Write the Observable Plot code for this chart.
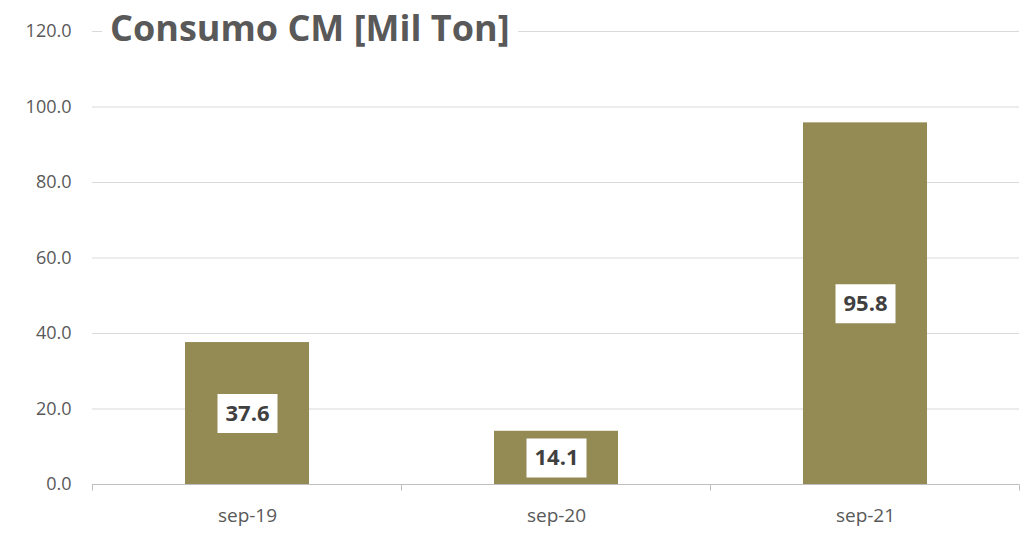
<!DOCTYPE html>
<html>
<head>
<meta charset="utf-8">
<script src="https://cdn.jsdelivr.net/npm/d3@7"></script>
<script src="https://cdn.jsdelivr.net/npm/@observablehq/plot@0.6"></script>
<style>
  html, body { margin: 0; padding: 0; background: #fff; }
  #wrap { position: relative; width: 1024px; height: 533px; }
  #title {
    position: absolute; left: 102px; top: 1px; padding: 0 8px;
    background: #fff; color: #595959;
    font-family: "Open Sans", sans-serif; font-weight: bold; font-size: 36px;
    line-height: 54px; white-space: nowrap;
  }
</style>
</head>
<body>
<div id="wrap">
  <div id="chart"></div>
  <div id="title">Consumo CM [Mil Ton]</div>
</div>
<script>
const categories = ["sep-19", "sep-20", "sep-21"];
const values = [37.6, 14.1, 95.8];
const yTicks = [0, 20, 40, 60, 80, 100, 120];

const data = categories.map((c, i) => ({cat: c, v: values[i]}));
const padInner = 0.6;

const boxSymbol = {
  draw(ctx) { ctx.rect(-30, -19.5, 60, 39); }
};

function edgeTicks(index, scales) {
  const x = scales.x, y = scales.y;
  const step = x(categories[1]) - x(categories[0]);
  const bw = step * (1 - padInner);
  const g = d3.create("svg:g").attr("stroke", "#bfbfbf").attr("stroke-width", 1).attr("fill", "none");
  const y0 = Math.round(y(0)) + 0.5;
  const edges = [x(categories[0]) - (step - bw) / 2];
  categories.forEach(c => edges.push(x(c) + bw + (step - bw) / 2));
  g.append("line").attr("x1", edges[0]).attr("x2", edges[edges.length - 1]).attr("y1", y0).attr("y2", y0);
  edges.forEach(e => {
    const ex = Math.round(e) + 0.5;
    g.append("line").attr("x1", ex).attr("x2", ex).attr("y1", y0).attr("y2", y0 + 6);
  });
  return g.node();
}

const chart = Plot.plot({
  width: 1024,
  height: 533,
  marginLeft: 92,
  marginRight: 5,
  marginTop: 31,
  marginBottom: 49,
  style: {fontFamily: "Open Sans, sans-serif", color: "#595959", background: "#fff"},
  x: {domain: categories, paddingInner: padInner, paddingOuter: 0.3, label: null},
  y: {domain: [0, 120], label: null},
  marks: [
    Plot.ruleY(yTicks, {stroke: "#d9d9d9", strokeWidth: 1}),
    Plot.barY(data, {x: "cat", y: "v", fill: "#948A54"}),
    edgeTicks,
    Plot.dot(data, {x: "cat", y: d => d.v / 2, symbol: boxSymbol, fill: "white", stroke: "none", r: 10}),
    Plot.text(data, {x: "cat", y: d => d.v / 2, text: d => d.v.toFixed(1), fill: "#404040", fontWeight: "bold", fontSize: 22, fontFamily: "Open Sans, sans-serif"}),
    Plot.axisY({ticks: yTicks, tickSize: 0, tickPadding: 21, tickFormat: d => d.toFixed(1), fontSize: 18, label: null}),
    Plot.axisX({tickSize: 0, tickPadding: 24, fontSize: 19, label: null})
  ]
});
document.getElementById("chart").appendChild(chart);
</script>
</body>
</html>
